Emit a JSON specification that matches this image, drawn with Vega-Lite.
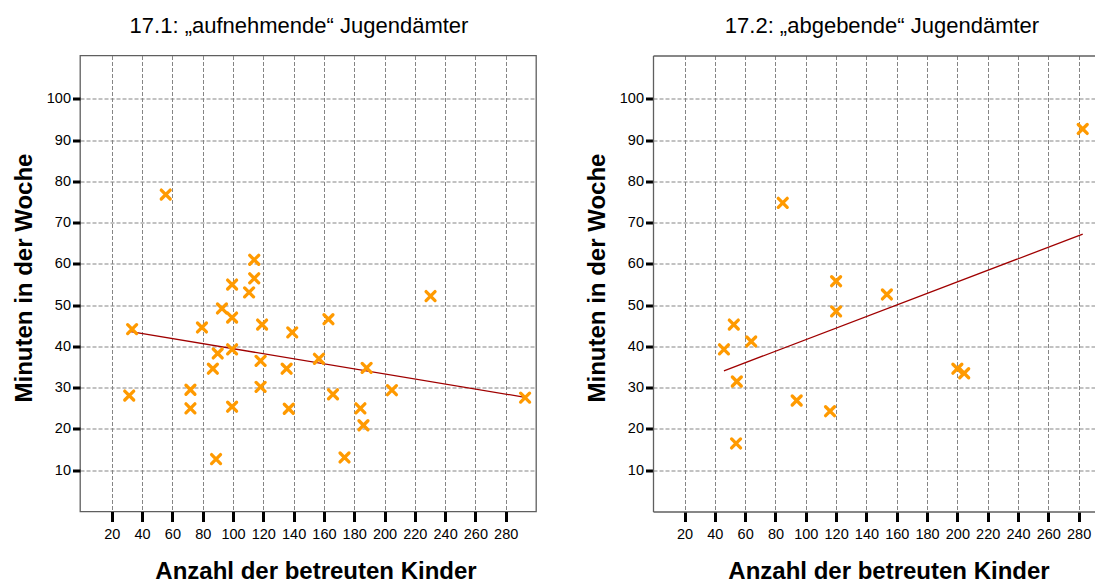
{
  "$schema": "https://vega.github.io/schema/vega-lite/v6.json",
  "background": "white",
  "padding": {"left": 11, "top": 13.5, "right": 0, "bottom": -2},
  "spacing": 117,
  "bounds": "flush",
  "config": {
    "font": "Liberation Sans",
    "view": {"stroke": "#5f5f5f", "strokeWidth": 1.3},
    "title": {"fontSize": 22, "fontWeight": "normal", "color": "#000000", "baseline": "alphabetic", "offset": 17.5, "anchor": "middle", "frame": "group"},
    "axis": {
      "gridColor": "#858585", "gridDash": [4, 2], "gridWidth": 1, "gridOpacity": 1,
      "tickColor": "#000000", "tickWidth": 3,
      "labelFont": "Liberation Sans", "labelFontSize": 14.5, "labelColor": "#000000", "labelOverlap": false,
      "titleFont": "Liberation Sans", "titleFontSize": 24, "titleFontWeight": "bold", "titleColor": "#000000",
      "domainColor": "#5f5f5f", "domainWidth": 1.3
    },
    "axisX": {"tickSize": 10, "labelPadding": 6, "titleBaseline": "alphabetic", "titleY": 67.3, "titleX": 235.5},
    "axisY": {"tickSize": 7.5, "labelPadding": 2, "titleBaseline": "alphabetic", "titleX": -49, "titleY": 222}
  },
  "datasets": {
    "punkte": [
      {"gruppe": "aufnehmend", "kinder": 55.6, "minuten": 76.8},
      {"gruppe": "aufnehmend", "kinder": 114, "minuten": 61},
      {"gruppe": "aufnehmend", "kinder": 114, "minuten": 56.5},
      {"gruppe": "aufnehmend", "kinder": 99.4, "minuten": 55},
      {"gruppe": "aufnehmend", "kinder": 110.6, "minuten": 53.1},
      {"gruppe": "aufnehmend", "kinder": 230.4, "minuten": 52.2},
      {"gruppe": "aufnehmend", "kinder": 92.7, "minuten": 49.2},
      {"gruppe": "aufnehmend", "kinder": 99.4, "minuten": 47},
      {"gruppe": "aufnehmend", "kinder": 33.4, "minuten": 44.2},
      {"gruppe": "aufnehmend", "kinder": 79.5, "minuten": 44.6},
      {"gruppe": "aufnehmend", "kinder": 119.2, "minuten": 45.3},
      {"gruppe": "aufnehmend", "kinder": 139.1, "minuten": 43.4},
      {"gruppe": "aufnehmend", "kinder": 163, "minuten": 46.6},
      {"gruppe": "aufnehmend", "kinder": 99.4, "minuten": 39.3},
      {"gruppe": "aufnehmend", "kinder": 89.9, "minuten": 38.3},
      {"gruppe": "aufnehmend", "kinder": 86.7, "minuten": 34.6},
      {"gruppe": "aufnehmend", "kinder": 118.2, "minuten": 36.5},
      {"gruppe": "aufnehmend", "kinder": 135.4, "minuten": 34.6},
      {"gruppe": "aufnehmend", "kinder": 156.7, "minuten": 37},
      {"gruppe": "aufnehmend", "kinder": 188.2, "minuten": 34.8},
      {"gruppe": "aufnehmend", "kinder": 71.9, "minuten": 29.5},
      {"gruppe": "aufnehmend", "kinder": 71.9, "minuten": 25},
      {"gruppe": "aufnehmend", "kinder": 31.5, "minuten": 28.1},
      {"gruppe": "aufnehmend", "kinder": 118.2, "minuten": 30.2},
      {"gruppe": "aufnehmend", "kinder": 99.4, "minuten": 25.4},
      {"gruppe": "aufnehmend", "kinder": 136.8, "minuten": 24.9},
      {"gruppe": "aufnehmend", "kinder": 166, "minuten": 28.4},
      {"gruppe": "aufnehmend", "kinder": 184.1, "minuten": 25},
      {"gruppe": "aufnehmend", "kinder": 186.1, "minuten": 20.9},
      {"gruppe": "aufnehmend", "kinder": 204.9, "minuten": 29.4},
      {"gruppe": "aufnehmend", "kinder": 292.8, "minuten": 27.6},
      {"gruppe": "aufnehmend", "kinder": 88.8, "minuten": 12.7},
      {"gruppe": "aufnehmend", "kinder": 173.6, "minuten": 13.1},
      {"gruppe": "abgebend", "kinder": 84.8, "minuten": 74.8},
      {"gruppe": "abgebend", "kinder": 282.7, "minuten": 92.7},
      {"gruppe": "abgebend", "kinder": 120, "minuten": 55.8},
      {"gruppe": "abgebend", "kinder": 153.5, "minuten": 52.6},
      {"gruppe": "abgebend", "kinder": 120, "minuten": 48.5},
      {"gruppe": "abgebend", "kinder": 52.5, "minuten": 45.3},
      {"gruppe": "abgebend", "kinder": 64, "minuten": 41.2},
      {"gruppe": "abgebend", "kinder": 46, "minuten": 39.3},
      {"gruppe": "abgebend", "kinder": 54.5, "minuten": 31.5},
      {"gruppe": "abgebend", "kinder": 94, "minuten": 26.9},
      {"gruppe": "abgebend", "kinder": 116, "minuten": 24.3},
      {"gruppe": "abgebend", "kinder": 54, "minuten": 16.5},
      {"gruppe": "abgebend", "kinder": 200, "minuten": 34.6},
      {"gruppe": "abgebend", "kinder": 204.5, "minuten": 33.5}
    ]
  },
  "hconcat": [
    {
      "title": {"text": "17.1: „aufnehmende“ Jugendämter", "dx": -9},
      "width": 456,
      "height": 456,
      "data": {"name": "punkte"},
      "transform": [{"filter": "datum.gruppe === 'aufnehmend'"}],
      "layer": [
        {
          "transform": [{"regression": "minuten", "on": "kinder"}],
          "mark": {"type": "line", "color": "#a00000", "strokeWidth": 1.3},
          "encoding": {
            "x": {"field": "kinder", "type": "quantitative", "scale": {"domain": [-1, 300], "nice": false, "zero": false},
                  "axis": {"values": [20, 40, 60, 80, 100, 120, 140, 160, 180, 200, 220, 240, 260, 280], "labelOverlap": false, "domain": false, "title": "Anzahl der betreuten Kinder"}},
            "y": {"field": "minuten", "type": "quantitative", "scale": {"domain": [0, 110.5], "nice": false, "zero": false},
                  "axis": {"values": [10, 20, 30, 40, 50, 60, 70, 80, 90, 100], "labelOverlap": false, "domain": false, "title": "Minuten in der Woche"}}
          }
        },
        {
          "mark": {"type": "point", "shape": "M-1,-1L1,1M1,-1L-1,1", "filled": false, "stroke": "#ff9a00", "strokeWidth": 3.3, "strokeCap": "round", "size": 80, "opacity": 1},
          "encoding": {
            "x": {"field": "kinder", "type": "quantitative",
                  "axis": {"values": [20, 40, 60, 80, 100, 120, 140, 160, 180, 200, 220, 240, 260, 280], "labelOverlap": false, "domain": false, "title": "Anzahl der betreuten Kinder"}},
            "y": {"field": "minuten", "type": "quantitative",
                  "axis": {"values": [10, 20, 30, 40, 50, 60, 70, 80, 90, 100], "labelOverlap": false, "domain": false, "title": "Minuten in der Woche"}}
          }
        }
      ]
    },
    {
      "title": {"text": "17.2: „abgebende“ Jugendämter", "dx": 8},
      "width": 442,
      "height": 456,
      "view": {"stroke": null},
      "data": {"name": "punkte"},
      "transform": [{"filter": "datum.gruppe === 'abgebend'"}],
      "resolve": {"axis": {"x": "independent"}},
      "layer": [
        {
          "mark": {"type": "point", "shape": "M-1,-1L1,1M1,-1L-1,1", "filled": false, "stroke": "#ff9a00", "strokeWidth": 3.3, "strokeCap": "round", "size": 80, "opacity": 1},
          "encoding": {
            "x": {"field": "kinder", "type": "quantitative", "scale": {"domain": [-0.8, 290.8], "nice": false, "zero": false},
                  "axis": {"values": [20, 40, 60, 80, 100, 120, 140, 160, 180, 200, 220, 240, 260, 280], "labelOverlap": false, "domain": true, "title": "Anzahl der betreuten Kinder"}},
            "y": {"field": "minuten", "type": "quantitative", "scale": {"domain": [0, 110.5], "nice": false, "zero": false},
                  "axis": {"values": [10, 20, 30, 40, 50, 60, 70, 80, 90, 100], "labelOverlap": false, "domain": true, "title": "Minuten in der Woche"}}
          }
        },
        {
          "transform": [{"regression": "minuten", "on": "kinder"}],
          "mark": {"type": "line", "color": "#a00000", "strokeWidth": 1.3},
          "encoding": {
            "x": {"field": "kinder", "type": "quantitative",
                  "axis": {"orient": "top", "labels": false, "ticks": false, "grid": false, "domain": true, "title": null}},
            "y": {"field": "minuten", "type": "quantitative",
                  "axis": {"values": [10, 20, 30, 40, 50, 60, 70, 80, 90, 100], "labelOverlap": false, "domain": true, "title": "Minuten in der Woche"}}
          }
        }
      ]
    }
  ]
}
